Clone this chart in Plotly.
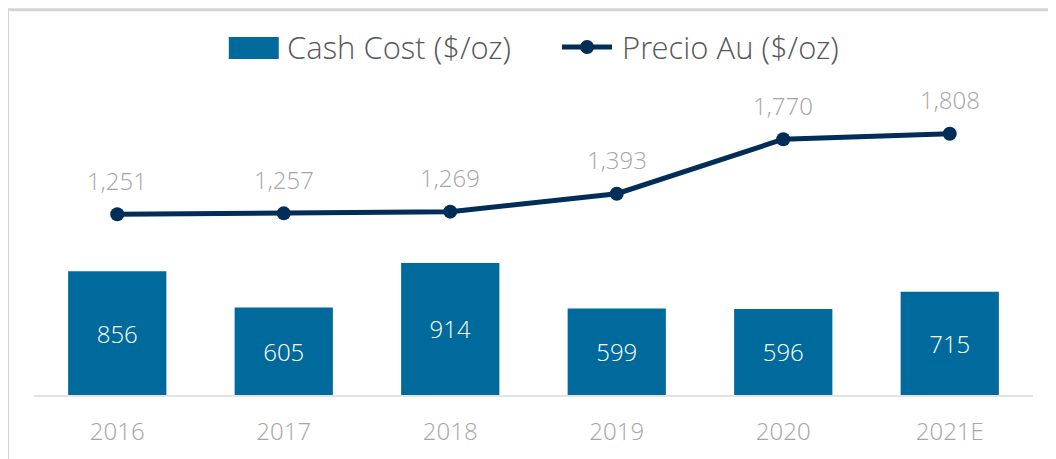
import plotly.graph_objects as go

years = ["2016", "2017", "2018", "2019", "2020", "2021E"]
cash_cost = [856, 605, 914, 599, 596, 715]
precio_au = [1251, 1257, 1269, 1393, 1770, 1808]

_BAR = "#006A9C"
_LINE = "#002E58"
_GRAY = "#A6A6A6"
_LEG = "#595959"
_FONT = "Open Sans Light, Open Sans"

fig = go.Figure()

fig.add_trace(go.Bar(
    x=years, y=cash_cost,
    name="Cash Cost ($/oz)",
    marker=dict(color=_BAR, line=dict(width=0)),
    width=0.59,
    text=[f"{v:,}" for v in cash_cost],
    textposition="inside",
    insidetextanchor="middle",
    textfont=dict(family=_FONT, size=24, color="white", weight=300),
    cliponaxis=False,
))

fig.add_trace(go.Scatter(
    x=years, y=precio_au,
    name="Precio Au ($/oz)",
    mode="lines+markers",
    line=dict(color=_LINE, width=5),
    marker=dict(color=_LINE, size=14),
    cliponaxis=False,
))

# value labels above the line points (category index so "2016" isn't read as a number)
for i, v in enumerate(precio_au):
    fig.add_annotation(
        x=i, y=v, text=f"{v:,}",
        showarrow=False, yshift=34,
        font=dict(family=_FONT, size=24, color=_GRAY, weight=300),
    )

# hand-drawn legend (big swatches like the original)
shapes = [
    dict(type="rect", xref="paper", yref="paper",
         x0=0.195, x1=0.245, y0=1.163, y1=1.239,
         fillcolor=_BAR, line_width=0),
    dict(type="line", xref="paper", yref="paper",
         x0=0.5285, x1=0.5786, y0=1.204, y1=1.204,
         line=dict(color=_LINE, width=5)),
    dict(type="circle", xref="paper", yref="paper",
         xsizemode="pixel", ysizemode="pixel",
         xanchor=0.5536, yanchor=1.204,
         x0=-7, x1=7, y0=-7, y1=7,
         fillcolor=_LINE, line_width=0),
    # light frame on top and left edge
    dict(type="line", xref="paper", yref="paper",
         x0=-0.026, x1=1.03, y0=1.333, y1=1.333,
         line=dict(color="#D4D4D4", width=3)),
    dict(type="line", xref="paper", yref="paper",
         x0=-0.026, x1=-0.026, y0=1.333, y1=-0.3,
         line=dict(color="#D4D4D4", width=2)),
]
for name, xpos in (("Cash Cost ($/oz)", 0.251), ("Precio Au ($/oz)", 0.587)):
    fig.add_annotation(
        x=xpos, y=1.204, xref="paper", yref="paper",
        text=name, showarrow=False, xanchor="left", yanchor="middle",
        font=dict(family=_FONT, size=31, color=_LEG, weight=300),
    )

# the page adds an 8px body margin, so the figure is 8px smaller and margins shifted
fig.update_layout(
    width=1048, height=451,
    template="plotly_white",
    paper_bgcolor="white",
    plot_bgcolor="white",
    margin=dict(l=26, r=23, t=98, b=64),
    showlegend=False,
    shapes=shapes,
    font=dict(family=_FONT, color=_GRAY),
    xaxis=dict(
        type="category",
        range=[-0.5, len(years) - 0.5],
        showgrid=False,
        showline=True, linecolor="#E3E3E3", linewidth=2,
        ticks="",
        ticklabelstandoff=14,
        tickfont=dict(family=_FONT, size=24, color=_GRAY, weight=300),
    ),
    yaxis=dict(
        range=[0, 2000],
        showgrid=False, zeroline=False,
        showticklabels=False,
    ),
)

fig.write_html("out.html")
